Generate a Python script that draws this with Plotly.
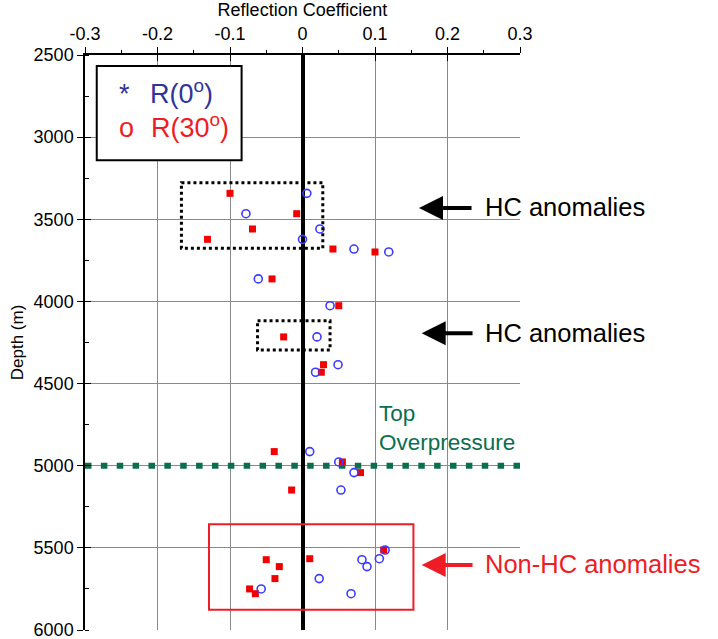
import plotly.graph_objects as go

# ---------------- data ----------------
depth = [3342, 3466, 3559, 3622, 3681, 3699, 3863, 4026, 4216, 4385, 4431,
         4914, 4977, 5042, 5148, 5513, 5566, 5572, 5614, 5687, 5750, 5779]
r0 = [0.006, -0.078, 0.024, 0.000, 0.071, 0.119, -0.061, 0.038, 0.020, 0.049, 0.018,
      0.010, 0.050, 0.071, 0.053, 0.114, 0.106, 0.082, 0.089, 0.023, -0.057, 0.067]
r30 = [-0.100, -0.008, -0.069, -0.131, 0.042, 0.100, -0.042, 0.050, -0.026, 0.029, 0.026,
       -0.039, 0.055, 0.080, -0.015, 0.112, 0.010, -0.050, -0.032, -0.038, -0.073, -0.065]

x_ticks = [-0.3, -0.2, -0.1, 0, 0.1, 0.2, 0.3]
x_ticktext = ["-0.3", "-0.2", "-0.1", "0", "0.1", "0.2", "0.3"]
y_ticks = [2500, 3000, 3500, 4000, 4500, 5000, 5500, 6000]
x_range = [-0.3, 0.3]
y_range = [6000, 2500]

overpressure_depth = 5000
hc_box1 = {"x": [-0.167, 0.028], "y": [3277, 3677]}
hc_box2 = {"x": [-0.062, 0.038], "y": [4117, 4295]}
nonhc_box = {"x": [-0.129, 0.153], "y": [5356, 5876]}

# arrows: (tip x, tail x, depth)
arrow_hc1 = (0.1607, 0.2352, 3431)
arrow_hc2 = (0.1644, 0.2366, 4194)
arrow_nonhc = (0.1644, 0.2366, 5604)

FONT = "Liberation Sans, Arial, Helvetica, sans-serif"
BLUE_TXT = "#333399"
BLUE_PT = "#3b3bff"
RED = "#ee1d25"
RED_PT = "#f20000"
GREEN = "#0a6e4f"
GRID = "#8a8a8a"

fig = go.Figure()

# overpressure line
fig.add_trace(go.Scatter(
    x=x_range, y=[overpressure_depth, overpressure_depth], mode="lines",
    line=dict(color=GREEN, width=6, dash="6.5px,9.37px"),
    showlegend=False, hoverinfo="skip"))

fig.add_trace(go.Scatter(
    x=r30, y=depth, mode="markers",
    marker=dict(symbol="square", size=7, color=RED_PT),
    showlegend=False))
fig.add_trace(go.Scatter(
    x=r0, y=depth, mode="markers",
    marker=dict(symbol="circle-open", size=8, color=BLUE_PT, line=dict(width=1.6)),
    showlegend=False))

# dummy trace for overlay axes (crossing ticks)
fig.add_trace(go.Scatter(x=[], y=[], xaxis="x2", yaxis="y2", showlegend=False))

shapes = []
for b, col, dash, w in [(hc_box1, "black", "dot", 3), (hc_box2, "black", "dot", 3),
                        (nonhc_box, RED, "solid", 2)]:
    shapes.append(dict(type="rect", xref="x", yref="y",
                       x0=b["x"][0], x1=b["x"][1], y0=b["y"][0], y1=b["y"][1],
                       line=dict(color=col, width=w, dash=dash)))
# legend box
shapes.append(dict(type="rect", xref="paper", yref="paper",
                   x0=0.027, x1=0.360, y0=0.817, y1=0.981,
                   line=dict(color="black", width=2), fillcolor="white", layer="above"))

ann = []
def arrow(a, color):
    tip, tail, d = a
    ann.append(dict(x=tip, y=d, ax=tail, ay=d, xref="x", yref="y", axref="x", ayref="y",
                    text="", showarrow=True, arrowhead=2, arrowsize=1.2, arrowwidth=4,
                    arrowcolor=color))
arrow(arrow_hc1, "black")
arrow(arrow_hc2, "black")
arrow(arrow_nonhc, RED)

def txt(x, y, s, color, size, xanchor="left", yanchor="bottom"):
    ann.append(dict(x=x, y=y, xref="x", yref="y", text=s, showarrow=False,
                    xanchor=xanchor, yanchor=yanchor, align="left",
                    font=dict(family=FONT, size=size, color=color)))

txt(0.249, 3523, "HC anomalies", "black", 25.5)
txt(0.249, 4292, "HC anomalies", "black", 25.5)
txt(0.249, 5698, "Non-HC anomalies", RED, 25.5)
txt(0.103, 4770, "Top<br>Overpressure", GREEN, 22.5, yanchor="middle")

# legend text
txt(-0.256, 2843, "*", BLUE_TXT, 27)
txt(-0.213, 2843, "R(0<sup>o</sup>)", BLUE_TXT, 27)
txt(-0.256, 3046, "o", RED, 27)
txt(-0.212, 3046, "R(30<sup>o</sup>)", RED, 27)

fig.update_layout(
    width=718, height=639,
    margin=dict(l=85, r=198, t=55, b=9),
    paper_bgcolor="white", plot_bgcolor="white",
    font=dict(family=FONT, size=18, color="black"),
    shapes=shapes, annotations=ann,
    xaxis=dict(
        side="top", range=x_range, tickvals=x_ticks, ticktext=x_ticktext,
        showgrid=True, gridcolor=GRID, gridwidth=1,
        zeroline=True, zerolinecolor="black", zerolinewidth=4,
        showline=True, linecolor="black", linewidth=1.5,
        ticks="outside", ticklen=6, tickcolor="black", tickwidth=1,
        minor=dict(ticks="outside", ticklen=3, dtick=0.05, tickcolor="black", showgrid=False),
        title=dict(text="Reflection Coefficient", standoff=3, font=dict(size=18)),
        tickfont=dict(size=18), automargin=False, ticklabeloverflow="allow"),
    yaxis=dict(
        range=y_range, tickvals=y_ticks,
        showgrid=True, gridcolor=GRID, gridwidth=1, zeroline=False,
        showline=True, linecolor="black", linewidth=1.5,
        ticks="outside", ticklen=6, tickcolor="black", tickwidth=1,
        minor=dict(ticks="inside", ticklen=4, dtick=250, tickcolor="black", showgrid=False),
        title=dict(text="Depth (m)", standoff=6, font=dict(size=17)),
        tickfont=dict(size=18), automargin=False, ticklabeloverflow="allow"),
    xaxis2=dict(overlaying="x", side="top", anchor="y", range=x_range, tickvals=x_ticks,
                showticklabels=False, showgrid=False, zeroline=False, showline=False,
                ticks="inside", ticklen=6, tickcolor="black"),
    yaxis2=dict(overlaying="y", side="left", anchor="x", range=y_range, tickvals=y_ticks,
                showticklabels=False, showgrid=False, zeroline=False, showline=False,
                ticks="inside", ticklen=6, tickcolor="black"),
)

fig.write_html("out.html")
